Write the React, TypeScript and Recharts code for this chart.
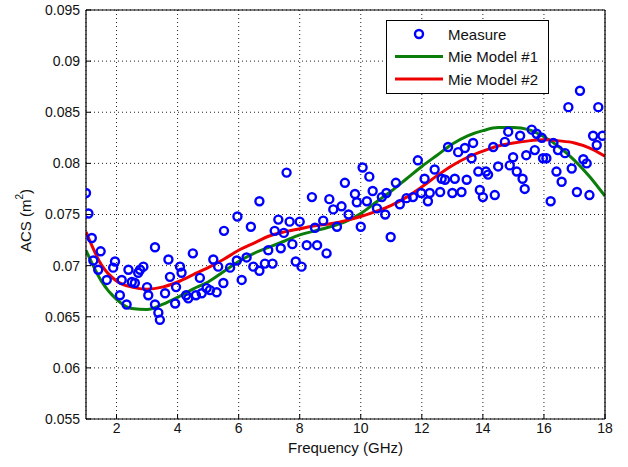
import React from "react";
import {
  ComposedChart,
  Line,
  Scatter,
  XAxis,
  YAxis,
  CartesianGrid,
  Legend,
} from "recharts";

// measured ACS points (frequency in GHz, ACS in m^2)
const measureFreq = [
  1.0, 1.08, 1.19, 1.24, 1.4, 1.48, 1.68, 1.89, 1.95, 2.11, 2.17, 2.33, 2.39, 2.5, 2.6, 2.71, 2.77, 2.88,
  3.0, 3.04, 3.26, 3.26, 3.37, 3.42, 3.59, 3.7, 3.75, 3.92, 3.95, 4.08, 4.13, 4.28, 4.35, 4.5, 4.6, 4.73,
  4.79, 4.95, 5.06, 5.17, 5.28, 5.33, 5.5, 5.52, 5.72, 5.94, 5.96, 6.1, 6.26, 6.4, 6.48, 6.68, 6.68, 6.86,
  6.97, 7.11, 7.18, 7.3, 7.38, 7.48, 7.57, 7.67, 7.76, 7.87, 8.0, 8.06, 8.23, 8.4, 8.5, 8.57, 8.77, 8.88,
  8.97, 9.1, 9.22, 9.37, 9.48, 9.6, 9.81, 9.87, 10.0, 10.06, 10.2, 10.28, 10.39, 10.53, 10.69, 10.8, 10.84,
  10.98, 11.15, 11.28, 11.5, 11.71, 11.87, 11.98, 12.09, 12.2, 12.26, 12.42, 12.6, 12.65, 12.76, 12.86, 13.0,
  13.08, 13.19, 13.3, 13.41, 13.47, 13.63, 13.68, 13.85, 13.9, 14.0, 14.1, 14.17, 14.34, 14.39, 14.5, 14.72,
  14.83, 14.88, 14.99, 15.11, 15.22, 15.3, 15.37, 15.42, 15.6, 15.7, 15.76, 15.93, 15.97, 16.08, 16.22, 16.31,
  16.41, 16.46, 16.58, 16.69, 16.8, 16.91, 17.08, 17.18, 17.29, 17.4, 17.49, 17.61, 17.73, 17.78, 17.92,
];
const measureAcs = [
  0.0771, 0.0751, 0.0727, 0.0705, 0.0696, 0.0714, 0.0686, 0.0698, 0.0704, 0.0671, 0.0686, 0.0662, 0.0696,
  0.0684, 0.0683, 0.0693, 0.0696, 0.0699, 0.0679, 0.0671, 0.0718, 0.0662, 0.0654, 0.0647, 0.0673, 0.0706,
  0.0689, 0.0663, 0.0679, 0.0699, 0.0693, 0.0671, 0.0668, 0.0712, 0.0671, 0.0688, 0.0673, 0.0678, 0.0676,
  0.0706, 0.0674, 0.0699, 0.0683, 0.0734, 0.0698, 0.0705, 0.0748, 0.0686, 0.0708, 0.0738, 0.0699, 0.0763,
  0.0695, 0.0702, 0.0715, 0.0702, 0.0734, 0.0745, 0.0717, 0.0732, 0.0791, 0.0743, 0.0721, 0.0704, 0.0743,
  0.0699, 0.072, 0.0767, 0.0737, 0.072, 0.0744, 0.0712, 0.0765, 0.0755, 0.0738, 0.0758, 0.0781, 0.075,
  0.077, 0.0762, 0.0738, 0.0796, 0.0763, 0.0787, 0.0773, 0.0756, 0.0767, 0.075, 0.0771, 0.0728, 0.0781,
  0.076, 0.0766, 0.0767, 0.0803, 0.0771, 0.0785, 0.0763, 0.0771, 0.0794, 0.0772, 0.0785, 0.0784, 0.0816,
  0.0771, 0.0785, 0.0811, 0.0772, 0.0815, 0.0784, 0.0805, 0.082, 0.0792, 0.0774, 0.0767, 0.0792, 0.0789,
  0.0816, 0.0769, 0.0797, 0.0821, 0.0831, 0.0798, 0.0806, 0.0792, 0.0827, 0.0785, 0.0775, 0.0808, 0.0833,
  0.0813, 0.0829, 0.0825, 0.0805, 0.0805, 0.0763, 0.082, 0.0792, 0.0813, 0.0782, 0.081, 0.0855, 0.0795,
  0.0772, 0.0871, 0.0804, 0.08, 0.0769, 0.0827, 0.0818, 0.0855, 0.0827,
];

// model curves
const modelFreq = [
  1, 1.5, 2, 2.5, 3, 3.5, 4, 4.5, 5, 5.5, 6, 6.5, 7, 7.5, 8, 8.5, 9, 9.5, 10, 10.5, 11, 11.5, 12, 12.5, 13,
  13.5, 14, 14.5, 15, 15.5, 16, 16.5, 17, 17.5, 18,
];
const mieModel1 = [
  0.0715, 0.0685, 0.0667, 0.0658, 0.0657, 0.0662, 0.0669, 0.0677, 0.0684, 0.0694, 0.0704, 0.0712, 0.0718,
  0.0724, 0.073, 0.0734, 0.0738, 0.0743, 0.0751, 0.0762, 0.0773, 0.0785, 0.0797, 0.0808, 0.0819, 0.0827,
  0.0832, 0.0835, 0.0835, 0.0833, 0.0826, 0.0816, 0.0803, 0.0787, 0.0768,
];
const mieModel2 = [
  0.0733, 0.0701, 0.0685, 0.0679, 0.0677, 0.0679, 0.0684, 0.0691, 0.0698, 0.0706, 0.0715, 0.0722, 0.0729,
  0.0733, 0.0736, 0.0739, 0.0741, 0.0744, 0.0748, 0.0753, 0.0759, 0.0767, 0.0777, 0.0788, 0.0798, 0.0806,
  0.0812, 0.0817, 0.082, 0.0822, 0.0823, 0.0822, 0.082, 0.0815, 0.0807,
];

const xTicks = [2, 4, 6, 8, 10, 12, 14, 16, 18];
const yTicks = [0.055, 0.06, 0.065, 0.07, 0.075, 0.08, 0.085, 0.09, 0.095];

const BLUE = "#0000ff";
const GREEN = "#0a7d0a";
const RED = "#ee0000";
const FONT = "'Liberation Sans', Arial, sans-serif";

const measureData = measureFreq.map((f, i) => ({ f, acs: measureAcs[i] }));
const model1Data = modelFreq.map((f, i) => ({ f, acs: mieModel1[i] }));
const model2Data = modelFreq.map((f, i) => ({ f, acs: mieModel2[i] }));

const Ring = (p: any) => (
  <circle cx={p.cx} cy={p.cy} r={4} fill="none" stroke={BLUE} strokeWidth={2.4} />
);

const YLabel = (props: any) => {
  const vb = props.viewBox || { x: 0, y: 0, width: 0, height: 0 };
  const x = vb.x + 25;
  const y = vb.y + vb.height / 2 + 6;
  return (
    <text
      x={x}
      y={y}
      transform={`rotate(-90 ${x} ${y})`}
      textAnchor="middle"
      dominantBaseline="central"
      fontSize={15}
      fill="#111"
      fontFamily={FONT}
    >
      ACS (m
      <tspan dy={-6} fontSize={10}>
        2
      </tspan>
      <tspan dy={6}>)</tspan>
    </text>
  );
};

const legendItems = [
  { name: "Measure", kind: "marker", color: BLUE },
  { name: "Mie Model #1", kind: "line", color: GREEN },
  { name: "Mie Model #2", kind: "line", color: RED },
];

const LegendBox = () => (
  <svg width={163} height={74} style={{ display: "block" }}>
    <rect x={0.5} y={0.5} width={162} height={73} fill="#fff" stroke="#000" />
    {legendItems.map((it, i) => {
      const cy = 14 + i * 22.5;
      return (
        <g key={it.name}>
          {it.kind === "marker" ? (
            <circle cx={33} cy={cy} r={4} fill="none" stroke={it.color} strokeWidth={2.4} />
          ) : (
            <line x1={9} x2={57} y1={cy} y2={cy} stroke={it.color} strokeWidth={3} />
          )}
          <text x={62} y={cy} dominantBaseline="central" fontSize={15} fontFamily={FONT} fill="#111">
            {it.name}
          </text>
        </g>
      );
    })}
  </svg>
);

export default function App() {
  return (
    <div style={{ position: "absolute", left: 0, top: 0, width: 628, height: 467, background: "#fff" }}>
      <ComposedChart
        width={628}
        height={467}
        margin={{ top: 10, right: 23, bottom: 0, left: 0 }}
        style={{ fontFamily: FONT }}
      >
        <CartesianGrid
          xAxisId="bottom"
          yAxisId="left"
          stroke="#222"
          strokeDasharray="1 3"
          strokeWidth={1}
        />
        <XAxis
          xAxisId="bottom"
          dataKey="f"
          type="number"
          domain={[1, 18]}
          ticks={xTicks}
          allowDataOverflow
          height={48}
          axisLine={{ stroke: "#000", strokeWidth: 1.2 }}
          tickLine={{ stroke: "#000" }}
          tickSize={-5}
          tickMargin={9}
          tick={{ fontSize: 14, fill: "#111" }}
          label={{ value: "Frequency (GHz)", position: "insideBottom", offset: 14, fontSize: 15, fill: "#111" }}
        />
        <XAxis
          xAxisId="top"
          dataKey="f"
          type="number"
          orientation="top"
          domain={[1, 18]}
          ticks={xTicks}
          allowDataOverflow
          mirror
          tick={false}
          tickSize={5}
          axisLine={{ stroke: "#000", strokeWidth: 1.2 }}
          tickLine={{ stroke: "#000" }}
        />
        <YAxis
          yAxisId="left"
          dataKey="acs"
          type="number"
          domain={[0.055, 0.095]}
          ticks={yTicks}
          allowDataOverflow
          width={86}
          axisLine={{ stroke: "#000", strokeWidth: 1.2 }}
          tickLine={{ stroke: "#000" }}
          tickSize={-5}
          tickMargin={11}
          tickFormatter={(v: number) => String(Number(v.toFixed(3)))}
          tick={{ fontSize: 14, fill: "#111" }}
          label={<YLabel />}
        />
        <YAxis
          yAxisId="right"
          dataKey="acs"
          type="number"
          orientation="right"
          domain={[0.055, 0.095]}
          ticks={yTicks}
          allowDataOverflow
          mirror
          tick={false}
          tickSize={5}
          axisLine={{ stroke: "#000", strokeWidth: 1.2 }}
          tickLine={{ stroke: "#000" }}
        />
        <Scatter
          name="Measure"
          xAxisId="bottom"
          yAxisId="left"
          data={measureData}
          shape={Ring}
          fill={BLUE}
          isAnimationActive={false}
        />
        <Line
          name="Mie Model #1"
          xAxisId="bottom"
          yAxisId="left"
          data={model1Data}
          dataKey="acs"
          type="monotone"
          stroke={GREEN}
          strokeWidth={3}
          dot={false}
          activeDot={false}
          isAnimationActive={false}
        />
        <Line
          name="Mie Model #2"
          xAxisId="bottom"
          yAxisId="left"
          data={model2Data}
          dataKey="acs"
          type="monotone"
          stroke={RED}
          strokeWidth={3}
          dot={false}
          activeDot={false}
          isAnimationActive={false}
        />
        <Legend
          layout="vertical"
          align="center"
          verticalAlign="middle"
          wrapperStyle={{ left: 386, top: 20, width: 163, height: 74 }}
          content={() => <LegendBox />}
        />
      </ComposedChart>
    </div>
  );
}
